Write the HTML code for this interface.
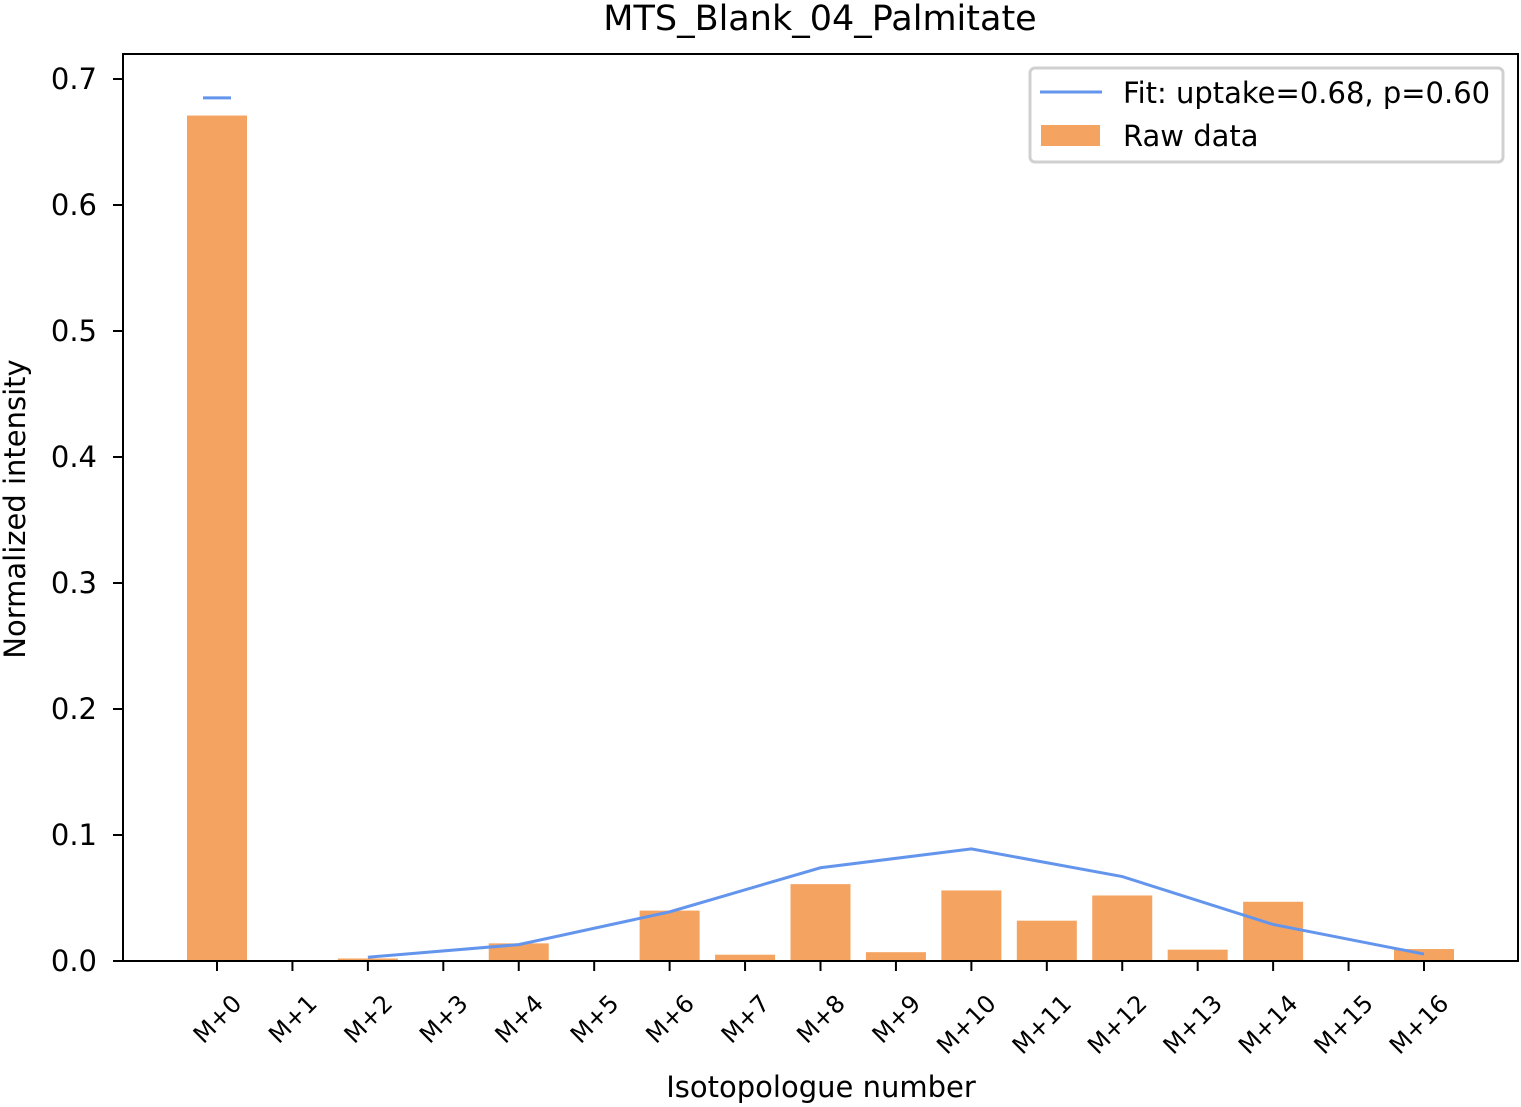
<!DOCTYPE html>
<html><head><meta charset="utf-8"><style>
body{margin:0;background:#fff;}
svg{display:block;font-family:"DejaVu Sans","Liberation Sans",sans-serif;}
</style></head><body>
<svg id="chart" width="1521" height="1107" viewBox="0 0 1521 1107">
<text x="820" y="30" font-size="35" text-anchor="middle">MTS_Blank_04_Palmitate</text>
<g id="bars"></g>
<g id="fit"></g>
<rect x="123" y="54" width="1395" height="907" fill="none" stroke="#000" stroke-width="2"/>
<g id="yaxis"></g>
<g id="xaxis"></g>
<text transform="translate(25,509) rotate(-90)" font-size="29" text-anchor="middle">Normalized intensity</text>
<text x="821" y="1097" font-size="29" text-anchor="middle">Isotopologue number</text>
<g>
<rect x="1030" y="68" width="473" height="94" rx="5" fill="#fff" stroke="#d0d0d0" stroke-width="3"/>
<line x1="1040" y1="92" x2="1102" y2="92" stroke="#6495ed" stroke-width="3"/>
<text x="1123" y="103" font-size="29">Fit: uptake=0.68, p=0.60</text>
<rect x="1041" y="125" width="59" height="21" fill="#f4a460"/>
<text x="1123" y="146" font-size="29">Raw data</text>
</g>
</svg>
<script>
const categories=["M+0","M+1","M+2","M+3","M+4","M+5","M+6","M+7","M+8","M+9","M+10","M+11","M+12","M+13","M+14","M+15","M+16"];
const rawValues=[0.671,0,0.002,0,0.014,0,0.040,0.005,0.061,0.007,0.056,0.032,0.052,0.009,0.047,0,0.0095];
const fitIndices=[2,4,6,8,10,12,14,16];
const fitValues=[0.003,0.013,0.039,0.074,0.089,0.067,0.029,0.0055];
const fitFirstValue=0.685;
const yTicks=[0,0.1,0.2,0.3,0.4,0.5,0.6,0.7];
const yTickLabels=["0.0","0.1","0.2","0.3","0.4","0.5","0.6","0.7"];
const NS="http://www.w3.org/2000/svg";
const x=i=>217+i*(1424-217)/16;
const y=v=>961-v*1260;
const bw=60;
function mk(tag,attrs,parent){const e=document.createElementNS(NS,tag);for(const k in attrs)e.setAttribute(k,attrs[k]);parent.appendChild(e);return e;}
const bars=document.getElementById('bars');
rawValues.forEach((v,i)=>{
 const r=mk('rect',{x:x(i)-bw/2,y:y(v),width:bw,height:961-y(v),fill:'#f4a460'},bars);
 
 
});
const fit=document.getElementById('fit');
const pts=fitIndices.map((idx,k)=>x(idx)+','+y(fitValues[k])).join(' ');
const pl=mk('polyline',{points:pts,fill:'none',stroke:'#6495ed','stroke-width':3},fit);


const m0=mk('line',{x1:x(0)-14,x2:x(0)+14,y1:y(fitFirstValue),y2:y(fitFirstValue),stroke:'#6495ed','stroke-width':3},fit);


const ya=document.getElementById('yaxis');
yTicks.forEach((t,k)=>{
 mk('line',{x1:113,x2:123,y1:y(t),y2:y(t),stroke:'#000','stroke-width':2},ya);
 const tx=mk('text',{x:97,y:y(t)+10,'font-size':29,'text-anchor':'end'},ya);
 tx.textContent=yTickLabels[k];
 
 
});
const xa=document.getElementById('xaxis');
categories.forEach((c,i)=>{
 mk('line',{x1:x(i),x2:x(i),y1:961,y2:971,stroke:'#000','stroke-width':2},xa);
 const tx=mk('text',{transform:`translate(${x(i)+26},${1005}) rotate(-45)`,'font-size':24,'text-anchor':'end'},xa);
 tx.textContent=c;
 
 
});
</script>
</body></html>
